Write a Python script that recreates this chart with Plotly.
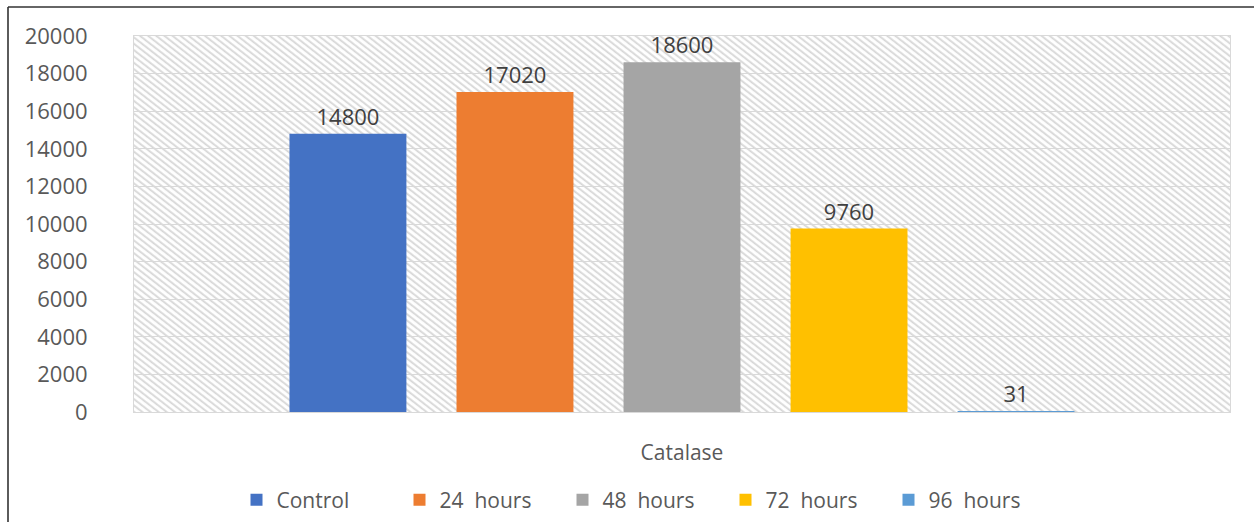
import base64
import plotly.graph_objects as go

# ---- data ----
category = ["Catalase"]
series_names = ["Control", "24\u00a0 hours", "48\u00a0 hours", "72\u00a0 hours", "96\u00a0 hours"]
series_values = [14800, 17020, 18600, 9760, 31]
series_colors = ["#4472C4", "#ED7D31", "#A5A5A5", "#FFC000", "#5B9BD5"]
y_ticks = [0, 2000, 4000, 6000, 8000, 10000, 12000, 14000, 16000, 18000, 20000]

W, H = 1254, 522
ML, MR, MT, MB = 134, 24, 36, 110
PW, PH = W - ML - MR, H - MT - MB

fig = go.Figure()
for name, val, col in zip(series_names, series_values, series_colors):
    fig.add_trace(go.Bar(
        x=category, y=[val], name=name,
        marker=dict(color=col, line=dict(width=0)),
        text=[str(val)], textposition="outside",
        textfont=dict(family="Open Sans", size=22, color="#404040"),
        cliponaxis=False,
    ))

# hatched plot-area background as an SVG pattern image (below gridlines)
svg = f'''<svg xmlns="http://www.w3.org/2000/svg" width="{PW}" height="{PH}" viewBox="0 0 {PW} {PH}" preserveAspectRatio="none">
<defs><pattern id="h" width="8" height="5" patternUnits="userSpaceOnUse" patternTransform="rotate(38)">
<rect width="8" height="5" fill="#ffffff"/>
<line x1="0" y1="1.2" x2="8" y2="1.2" stroke="#d6d6d6" stroke-width="1.8"/>
</pattern></defs>
<rect width="{PW}" height="{PH}" fill="url(#h)"/></svg>'''
src = "data:image/svg+xml;base64," + base64.b64encode(svg.encode()).decode()
fig.add_layout_image(dict(source=src, xref="paper", yref="paper", x=0, y=1,
                          sizex=1, sizey=1, sizing="stretch", xanchor="left",
                          yanchor="top", layer="below"))

# outer dark frame: only left and top edges are inside the picture
fx = (8 - ML) / PW
fy = 1 + (MT - 7) / PH
fig.add_shape(type="line", xref="paper", yref="paper", x0=fx, x1=fx,
              y0=-(H + 10 - (MT + PH)) / PH, y1=fy,
              line=dict(color="#333333", width=1.6), layer="above")
fig.add_shape(type="line", xref="paper", yref="paper", x0=fx, x1=(W + 10 - ML) / PW,
              y0=fy, y1=fy,
              line=dict(color="#333333", width=1.6), layer="above")

fig.update_layout(
    width=W, height=H,
    margin=dict(l=ML, r=MR, t=MT, b=MB, autoexpand=False),
    paper_bgcolor="white", plot_bgcolor="rgba(0,0,0,0)",
    barmode="group", bargap=0.238, bargroupgap=0.3,
    font=dict(family="Open Sans", color="#595959"),
    showlegend=True,
    legend=dict(orientation="h", x=0.5 - 38 / PW, xanchor="center", y=-(500 - (MT + PH)) / PH,
                yanchor="middle", font=dict(size=21, color="#595959"),
                entrywidth=118, itemwidth=30, bgcolor="rgba(0,0,0,0)"),
    xaxis=dict(showgrid=False, showline=True, mirror=True, linecolor="#d9d9d9", linewidth=1,
               tickfont=dict(size=21, color="#595959"), ticks="", ticklabelstandoff=22,
               fixedrange=True),
    yaxis=dict(range=[0, 20000], tickvals=y_ticks, ticktext=[str(v) for v in y_ticks],
               showgrid=True, gridcolor="#d9d9d9", gridwidth=1,
               showline=True, mirror=True, linecolor="#d9d9d9", linewidth=1,
               zeroline=False, tickfont=dict(size=22, color="#595959"), ticks="",
               ticklabelstandoff=41, fixedrange=True),
)

fig.write_html("out.html")
